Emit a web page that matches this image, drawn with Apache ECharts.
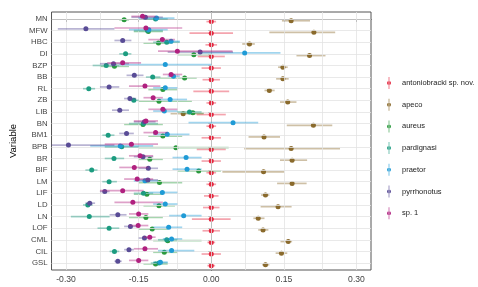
<!DOCTYPE html>
<html>
<head>
<meta charset="utf-8">
<script src="https://cdn.jsdelivr.net/npm/echarts@6/dist/echarts.min.js"></script>
<style>
  html, body { margin: 0; padding: 0; background: #fff; }
  #chart { width: 478px; height: 287px; }
</style>
</head>
<body>
<div id="chart"></div>
<script>
// variables, top to bottom
const variables = ['MN', 'MFW', 'HBC', 'DI', 'BZP', 'BB', 'RL', 'ZB', 'LIB', 'BN', 'BM1',
  'BPB', 'BR', 'BIF', 'LM', 'LIF', 'LD', 'LN', 'LOF', 'CML', 'CIL', 'GSL'];
const species = ['antoniobracki sp. nov.', 'apeco', 'aureus', 'pardignasi', 'praetor', 'pyrrhonotus', 'sp. 1'];
const xTicks = [-0.3, -0.15, 0, 0.15, 0.3];
const xGrid = [-0.3, -0.225, -0.15, -0.075, 0, 0.075, 0.15, 0.225, 0.3];

// [estimate, lower, upper] per variable
const antoniobracki = [[0, -0.01, 0.01], [0, -0.045, 0.045], [0, -0.012, 0.012], [0, -0.028, 0.028],
  [0, -0.02, 0.02], [0, -0.018, 0.018], [0, -0.037, 0.037], [0, -0.01, 0.01], [0, -0.03, 0.03],
  [0, -0.01, 0.01], [0, -0.02, 0.02], [0, -0.03, 0.03], [0, -0.02, 0.02], [0, -0.01, 0.01],
  [0, -0.01, 0.01], [0, -0.015, 0.015], [0, -0.017, 0.017], [0, -0.04, 0.04], [0, -0.018, 0.018],
  [0, -0.008, 0.008], [0, -0.02, 0.02], [0, -0.008, 0.008]];
const apeco = [[0.165, 0.146, 0.204], [0.212, 0.12, 0.256], [0.079, 0.064, 0.09], [0.203, 0.176, 0.236],
  [0.148, 0.138, 0.158], [0.148, 0.134, 0.16], [0.12, 0.11, 0.131], [0.158, 0.142, 0.176],
  [-0.058, -0.084, -0.016], [0.211, 0.156, 0.25], [0.109, 0.077, 0.142], [0.165, 0.068, 0.266],
  [0.167, 0.142, 0.198], [0.108, 0.023, 0.151], [0.167, 0.136, 0.197], [0.112, 0.103, 0.12],
  [0.138, 0.102, 0.166], [0.097, 0.087, 0.11], [0.107, 0.097, 0.118], [0.159, 0.143, 0.167],
  [0.145, 0.133, 0.157], [0.112, 0.105, 0.12]];
const aureus = [[-0.18, -0.19, -0.17], [-0.13, -0.16, -0.1], [-0.109, -0.14, -0.08], [-0.036, -0.07, 0.0],
  [-0.2, -0.23, -0.17], [-0.055, -0.12, -0.03], [-0.1, -0.13, -0.07], [-0.108, -0.15, -0.04],
  [-0.038, -0.06, -0.015], [-0.141, -0.18, -0.1], [-0.1, -0.13, -0.06], [-0.073, -0.15, 0.036],
  [-0.127, -0.15, -0.1], [-0.026, -0.07, 0.02], [-0.107, -0.15, -0.06], [-0.133, -0.16, -0.1],
  [-0.108, -0.14, -0.075], [-0.135, -0.17, -0.1], [-0.122, -0.15, -0.09], [-0.09, -0.12, -0.02],
  [-0.097, -0.12, -0.07], [-0.115, -0.14, -0.09]];
const pardignasi = [[-0.115, -0.14, -0.09], [-0.132, -0.16, -0.1], [-0.092, -0.12, -0.065], [-0.177, -0.19, -0.165],
  [-0.217, -0.245, -0.19], [-0.121, -0.135, -0.105], [-0.253, -0.265, -0.24], [-0.16, -0.17, -0.15],
  [-0.045, -0.07, -0.02], [-0.14, -0.17, -0.11], [-0.213, -0.225, -0.2], [-0.185, -0.22, -0.15],
  [-0.201, -0.22, -0.18], [-0.247, -0.26, -0.235], [-0.211, -0.225, -0.195], [-0.14, -0.16, -0.12],
  [-0.255, -0.265, -0.245], [-0.252, -0.29, -0.21], [-0.211, -0.235, -0.19], [-0.092, -0.11, -0.07],
  [-0.2, -0.21, -0.19], [-0.108, -0.125, -0.09]];
const praetor = [[-0.113, -0.15, -0.076], [-0.129, -0.17, -0.09], [-0.083, -0.1, -0.065], [0.069, -0.027, 0.143],
  [-0.095, -0.19, 0.0], [-0.078, -0.09, -0.065], [-0.095, -0.12, -0.07], [-0.085, -0.11, -0.05],
  [-0.097, -0.12, -0.07], [0.045, -0.047, 0.097], [-0.091, -0.12, -0.045], [-0.188, -0.25, -0.12],
  [-0.052, -0.08, -0.02], [-0.05, -0.08, -0.02], [-0.137, -0.16, -0.11], [-0.101, -0.13, -0.07],
  [-0.095, -0.12, -0.07], [-0.057, -0.087, -0.02], [-0.088, -0.12, -0.06], [-0.082, -0.1, -0.06],
  [-0.082, -0.11, -0.035], [-0.105, -0.12, -0.09]];
const pyrrhonotus = [[-0.136, -0.165, -0.1], [-0.259, -0.317, -0.2], [-0.183, -0.2, -0.165], [-0.023, -0.09, 0.045],
  [-0.202, -0.23, -0.17], [-0.159, -0.175, -0.14], [-0.211, -0.23, -0.19], [-0.168, -0.18, -0.155],
  [-0.189, -0.205, -0.17], [-0.138, -0.16, -0.115], [-0.175, -0.19, -0.16], [-0.295, -0.33, -0.2],
  [-0.141, -0.16, -0.12], [-0.13, -0.15, -0.11], [-0.131, -0.15, -0.11], [-0.22, -0.23, -0.21],
  [-0.251, -0.26, -0.24], [-0.193, -0.21, -0.175], [-0.167, -0.18, -0.155], [-0.138, -0.15, -0.125],
  [-0.17, -0.18, -0.16], [-0.193, -0.2, -0.185]];
const sp1 = [[-0.142, -0.165, -0.115], [-0.135, -0.2, -0.06], [-0.101, -0.13, -0.075], [-0.07, -0.11, 0.044],
  [-0.183, -0.215, -0.145], [-0.083, -0.1, -0.06], [-0.137, -0.17, -0.105], [-0.12, -0.14, -0.1],
  [-0.1, -0.13, -0.07], [-0.135, -0.16, -0.11], [-0.115, -0.14, -0.09], [-0.165, -0.22, -0.11],
  [-0.147, -0.17, -0.12], [-0.159, -0.19, -0.13], [-0.153, -0.18, -0.12], [-0.183, -0.23, -0.14],
  [-0.162, -0.2, -0.1], [-0.15, -0.17, -0.13], [-0.151, -0.17, -0.13], [-0.127, -0.14, -0.115],
  [-0.137, -0.16, -0.11], [-0.15, -0.17, -0.13]];

const colors = ['#e4263e', '#8a6a2c', '#2b9a3e', '#1c9c80', '#1f9bd6', '#594c96', '#b0207f'];
const allData = [antoniobracki, apeco, aureus, pardignasi, praetor, pyrrhonotus, sp1];

const font = 'Liberation Sans, Arial, sans-serif';
const legendIcon = 'path://M1.7,0 L2.3,0 L2.3,12 L1.7,12 Z M0,6 A2,2 0 1,0 4,6 A2,2 0 1,0 0,6 Z';

// dodge: first group lowest, last group on top
function makeRender(k) {
  return function (params, api) {
    const yi = api.value(1);
    const p = api.coord([api.value(0), yi]);
    const lo = api.coord([api.value(2), yi]);
    const hi = api.coord([api.value(3), yi]);
    const band = Math.abs(api.size([0, 1])[1]);
    const y = p[1] + (3 - k) * 0.075 * band;
    const color = colors[k];
    return {
      type: 'group',
      children: [
        { type: 'line', shape: { x1: lo[0], y1: y, x2: hi[0], y2: y },
          style: { stroke: color, lineWidth: 1.7, opacity: 0.42 } },
        { type: 'circle', shape: { cx: p[0], cy: y, r: 2.5 }, style: { fill: color } },
      ],
    };
  };
}

const series = [];

species.forEach((name, k) => {
  series.push({
    name: name,
    type: 'custom',
    clip: true,
    z: 2 + k,
    itemStyle: { color: colors[k] },
    renderItem: makeRender(k),
    encode: { x: [0, 2, 3], y: 1 },
    data: allData[k].map((d, i) => [d[0], i, d[1], d[2]]),
  });
});

// grid lines at the tick positions (ggplot style)
series.push({
  type: 'line',
  data: [],
  silent: true,
  z: 0,
  markLine: {
    silent: true,
    symbol: ['none', 'none'],
    animation: false,
    label: { show: false },
    lineStyle: { color: '#e3e3e3', width: 0.8, type: 'solid' },
    data: xGrid.map((v) => ({ xAxis: v })).concat(variables.map((v, i) => ({ yAxis: i }))),
  },
});

const chart = echarts.init(document.getElementById('chart'));
chart.setOption({
  animation: false,
  color: colors,
  textStyle: { fontFamily: font },
  grid: {
    left: 40, right: 107, top: 12, bottom: 17,
    show: true, borderColor: '#555', borderWidth: 1,
  },
  legend: {
    orient: 'vertical',
    left: 382,
    top: 72,
    itemWidth: 4,
    itemHeight: 12,
    itemGap: 9.7,
    icon: legendIcon,
    data: species,
    textStyle: { fontSize: 7.5, color: '#222', fontFamily: font, padding: [0, 0, 0, 6] },
  },
  xAxis: {
    type: 'value',
    min: -0.33,
    max: 0.33,
    splitLine: { show: false },
    axisLine: { show: true, lineStyle: { color: '#333' } },
    axisTick: { show: true, length: 3, customValues: xTicks, lineStyle: { color: '#333' } },
    axisLabel: {
      customValues: xTicks,
      fontSize: 8.6,
      color: '#444',
      margin: 5,
      formatter: (v) => v.toFixed(2),
    },
  },
  yAxis: {
    type: 'value',
    inverse: true,
    min: -0.6,
    max: variables.length - 0.4,
    name: 'Variable',
    nameLocation: 'middle',
    nameRotate: 90,
    nameGap: 29,
    nameTextStyle: { fontSize: 9.5, color: '#000', fontFamily: font },
    splitLine: { show: false },
    axisLine: { show: true, lineStyle: { color: '#333' } },
    axisTick: { show: true, length: 3, customValues: variables.map((v, i) => i), lineStyle: { color: '#333' } },
    axisLabel: {
      customValues: variables.map((v, i) => i),
      fontSize: 7.8,
      color: '#444',
      margin: 4,
      formatter: (v) => variables[Math.round(v)],
    },
  },
  series: series,
});
</script>
</body>
</html>
